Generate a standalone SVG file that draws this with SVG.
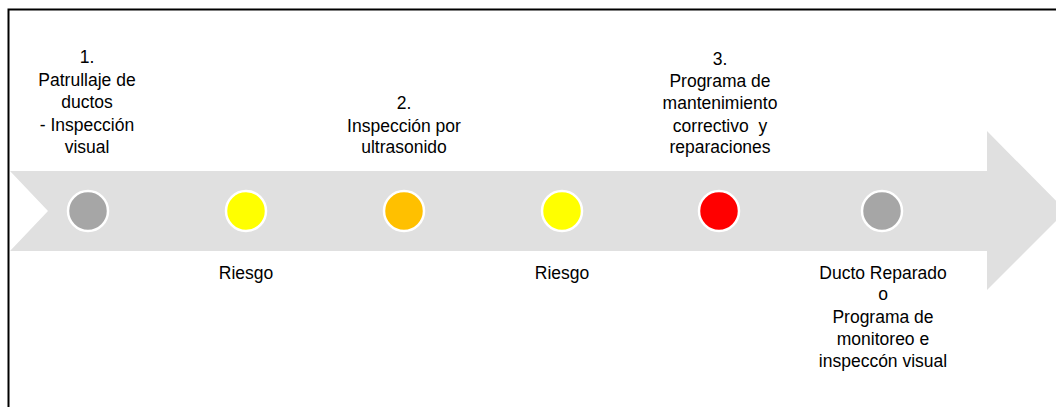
<svg xmlns="http://www.w3.org/2000/svg" width="1056" height="407" viewBox="0 0 1056 407">
<style>
.t{font-family:"Liberation Sans",Arial,sans-serif;font-size:17.5px;fill:#000;text-anchor:middle}
.dot{stroke:#fff;stroke-width:2.5}
</style>
<rect width="1056" height="407" fill="#fff"/>
<g id="frame"><path d="M8.5,407 V9.5 H1056" fill="none" stroke="#000" stroke-width="2"/></g>
<g id="arrow"><polygon points="10,171 987,171 987,131 1066,211 987,290 987,251 10,251 48,211" fill="#e0e0e0"/></g>
<g id="n1"><circle class="dot" cx="88" cy="211" r="20" fill="#a6a6a6"/>
<text class="t" x="87"><tspan x="87" y="63">1.</tspan><tspan x="87" y="86">Patrullaje de</tspan><tspan x="87" y="108">ductos</tspan><tspan x="87" y="131">- Inspección</tspan><tspan x="87" y="153">visual</tspan></text></g>
<g id="n2"><circle class="dot" cx="246" cy="211" r="20" fill="#ffff00"/>
<text class="t" x="246" y="279">Riesgo</text></g>
<g id="n3"><circle class="dot" cx="404" cy="211" r="20" fill="#ffc000"/>
<text class="t"><tspan x="404" y="109">2.</tspan><tspan x="404" y="132">Inspección por</tspan><tspan x="404" y="153">ultrasonido</tspan></text></g>
<g id="n4"><circle class="dot" cx="562" cy="211" r="20" fill="#ffff00"/>
<text class="t" x="562" y="279">Riesgo</text></g>
<g id="n5"><circle class="dot" cx="719" cy="211" r="20" fill="#ff0000"/>
<text class="t" xml:space="preserve"><tspan x="720" y="65">3.</tspan><tspan x="720" y="87">Programa de</tspan><tspan x="720" y="109">mantenimiento</tspan><tspan x="720" y="132">correctivo  y</tspan><tspan x="720" y="153">reparaciones</tspan></text></g>
<g id="n6"><circle class="dot" cx="882" cy="211" r="20" fill="#a6a6a6"/>
<text class="t"><tspan x="883" y="279">Ducto Reparado</tspan><tspan x="883" y="300">o</tspan><tspan x="883" y="323">Programa de</tspan><tspan x="883" y="345">monitoreo e</tspan><tspan x="883" y="367">inspeccón visual</tspan></text></g>
<g id="connectors"></g>
</svg>
